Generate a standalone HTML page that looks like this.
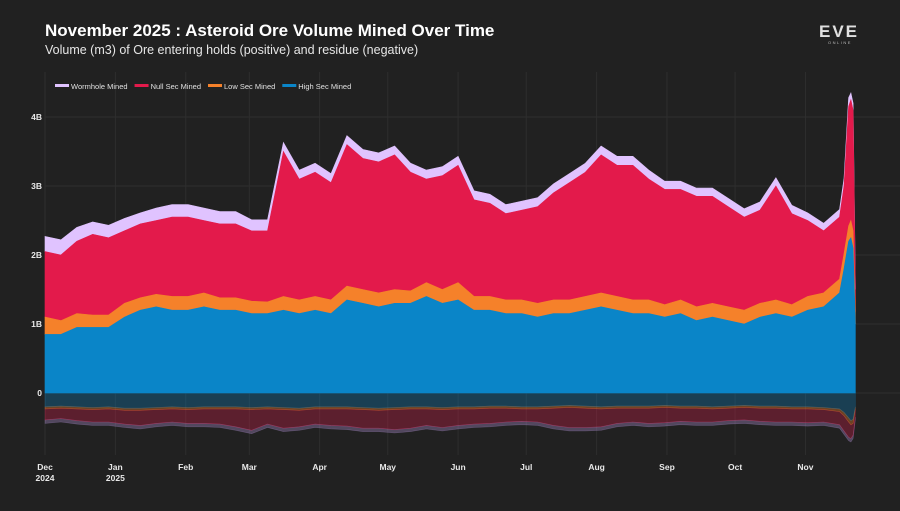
<!DOCTYPE html>
<html><head><meta charset="utf-8"><style>
html,body{margin:0;padding:0;background:#212121;}
body{width:900px;height:506px;overflow:hidden;font-family:"Liberation Sans",sans-serif;}
</style></head><body>
<svg id="chart" width="900" height="506" xmlns="http://www.w3.org/2000/svg">
<rect width="900" height="506" fill="#212121"/>
<text x="45" y="36" fill="#fff" font-size="17" font-weight="bold">November 2025 : Asteroid Ore Volume Mined Over Time</text>
<text x="45" y="54" fill="#e6e6e6" font-size="12.5">Volume (m3) of Ore entering holds (positive) and residue (negative)</text>
<g>
<text x="839" y="37" fill="#e0e0e0" font-size="17" font-weight="bold" text-anchor="middle" letter-spacing="2">EVE</text>
<text x="840" y="44" fill="#bbb" font-size="4" text-anchor="middle" letter-spacing="1.5">ONLINE</text>
</g>
<g id="grid"></g>
<g id="neg"></g>
<g id="pos"></g>
<g id="axes"></g>
<g id="legend"></g>
</svg>
<script>
const days=[0,7,14,21,28,35,42,49,56,63,70,77,84,91,98,105,112,119,126,133,140,147,154,161,168,175,182,189,196,203,210,217,224,231,238,245,252,259,266,273,280,287,294,301,308,315,322,329,336,343,350,352,354,355,356,357];
const highSec=[0.85,0.85,0.95,0.95,0.95,1.1,1.2,1.25,1.2,1.2,1.25,1.2,1.2,1.15,1.15,1.2,1.15,1.2,1.15,1.35,1.3,1.25,1.3,1.3,1.4,1.3,1.35,1.2,1.2,1.15,1.15,1.1,1.15,1.15,1.2,1.25,1.2,1.15,1.15,1.1,1.15,1.05,1.1,1.05,1.0,1.1,1.15,1.1,1.2,1.25,1.45,1.8,2.2,2.25,2.1,1.0];
const lowSec=[0.25,0.2,0.2,0.18,0.18,0.2,0.18,0.18,0.2,0.2,0.2,0.18,0.18,0.18,0.17,0.2,0.2,0.2,0.2,0.2,0.2,0.2,0.2,0.18,0.2,0.2,0.25,0.2,0.2,0.2,0.2,0.2,0.2,0.2,0.2,0.2,0.2,0.2,0.2,0.18,0.2,0.2,0.2,0.2,0.2,0.2,0.2,0.18,0.2,0.2,0.2,0.22,0.22,0.25,0.25,0.18];
const nullSec=[0.95,0.95,1.05,1.17,1.12,1.05,1.07,1.07,1.15,1.15,1.05,1.07,1.07,1.02,1.03,2.1,1.75,1.8,1.7,2.05,1.9,1.9,1.95,1.72,1.5,1.65,1.7,1.4,1.35,1.25,1.3,1.4,1.55,1.7,1.8,2.0,1.9,1.95,1.75,1.67,1.6,1.6,1.55,1.45,1.35,1.35,1.65,1.32,1.1,0.9,0.9,0.98,1.73,1.75,1.75,0.32];
const wormhole=[0.22,0.22,0.2,0.18,0.18,0.18,0.16,0.18,0.18,0.18,0.18,0.18,0.18,0.16,0.16,0.13,0.13,0.13,0.13,0.13,0.13,0.13,0.13,0.13,0.13,0.13,0.13,0.13,0.13,0.13,0.13,0.13,0.13,0.13,0.13,0.13,0.13,0.13,0.13,0.12,0.12,0.12,0.12,0.12,0.12,0.12,0.12,0.12,0.11,0.11,0.11,0.11,0.13,0.1,0.1,0.05];
const negHigh=[0.2,0.19,0.2,0.21,0.2,0.22,0.22,0.21,0.2,0.21,0.2,0.2,0.2,0.21,0.2,0.21,0.22,0.2,0.2,0.2,0.21,0.22,0.21,0.2,0.2,0.21,0.2,0.2,0.19,0.19,0.2,0.2,0.19,0.18,0.19,0.2,0.19,0.19,0.19,0.18,0.19,0.19,0.2,0.19,0.18,0.19,0.19,0.2,0.2,0.21,0.23,0.28,0.36,0.4,0.38,0.2];
const negLow=[0.03,0.03,0.03,0.03,0.03,0.03,0.03,0.03,0.03,0.03,0.03,0.03,0.03,0.03,0.03,0.03,0.03,0.03,0.03,0.03,0.03,0.03,0.03,0.03,0.03,0.03,0.03,0.03,0.03,0.03,0.03,0.03,0.03,0.03,0.03,0.03,0.03,0.03,0.03,0.03,0.03,0.03,0.03,0.03,0.03,0.03,0.03,0.03,0.03,0.03,0.04,0.05,0.06,0.06,0.06,0.03];
const negNull=[0.16,0.15,0.17,0.18,0.19,0.2,0.22,0.2,0.19,0.2,0.21,0.22,0.26,0.3,0.22,0.27,0.24,0.22,0.24,0.25,0.27,0.26,0.29,0.28,0.24,0.26,0.24,0.22,0.22,0.2,0.18,0.19,0.25,0.29,0.28,0.26,0.22,0.2,0.22,0.22,0.19,0.2,0.19,0.18,0.18,0.19,0.2,0.19,0.2,0.18,0.19,0.22,0.22,0.2,0.17,0.12];
const negWh=[0.05,0.05,0.05,0.05,0.05,0.05,0.05,0.05,0.05,0.05,0.05,0.05,0.05,0.05,0.05,0.05,0.05,0.05,0.05,0.05,0.05,0.05,0.05,0.05,0.05,0.05,0.05,0.05,0.05,0.05,0.05,0.05,0.05,0.05,0.05,0.05,0.05,0.05,0.05,0.05,0.05,0.05,0.05,0.05,0.05,0.05,0.05,0.05,0.05,0.05,0.05,0.05,0.05,0.05,0.05,0.03];
const yTicks=[0,1,2,3,4];
const yTickLabels=["0","1B","2B","3B","4B"];
const monthDays=[0,31,62,90,121,151,182,212,243,274,304,335];
const monthLabels=["Dec","Jan","Feb","Mar","Apr","May","Jun","Jul","Aug","Sep","Oct","Nov"];
const yearLabels=["2024","2025","","","","","","","","","",""];
const seriesNames=["Wormhole Mined","Null Sec Mined","Low Sec Mined","High Sec Mined"];
const colors={high:"#0a85c8",low:"#f5812a",nul:"#e31a4b",wh:"#e0c3ff"};

const NS="http://www.w3.org/2000/svg";
const X=d=>45+d*2.27;
const Y=v=>393-v*69;
function mk(tag,attrs,parent){const e=document.createElementNS(NS,tag);for(const k in attrs)e.setAttribute(k,attrs[k]);parent.appendChild(e);return e;}
const grid=document.getElementById('grid'),axes=document.getElementById('axes');
monthDays.forEach((d,i)=>{
  const l=mk('line',{x1:X(d),x2:X(d),y1:72,y2:455,stroke:'#2e2e2e','stroke-width':1},grid);
  
  
  const t=mk('text',{x:X(d),y:470,fill:'#e8e8e8','font-size':8.5,'font-weight':'bold','text-anchor':'middle'},axes);
  t.textContent=monthLabels[i];
  
  
  if(yearLabels[i]){const t2=mk('text',{x:X(d),y:481,fill:'#e8e8e8','font-size':8.5,'font-weight':'bold','text-anchor':'middle'},axes);t2.textContent=yearLabels[i];
  
  }
});
yTicks.forEach((v,i)=>{
  const l=mk('line',{x1:45,x2:900,y1:Y(v),y2:Y(v),stroke:'#2e2e2e','stroke-width':1},grid);
  
  
  const t=mk('text',{x:42,y:Y(v)+3,fill:'#e8e8e8','font-size':8.5,'font-weight':'bold','text-anchor':'end'},axes);
  t.textContent=yTickLabels[i];
  
  
});
function band(parent,lower,upper,color,op,name){
  let d='M'+days.map((dd,i)=>X(dd).toFixed(1)+','+Y(upper[i]).toFixed(1)).join('L');
  for(let i=days.length-1;i>=0;i--)d+='L'+X(days[i]).toFixed(1)+','+Y(lower[i]).toFixed(1);
  const p=mk('path',{d:d+'Z',fill:color,'fill-opacity':op,stroke:color,'stroke-opacity':op,'stroke-width':0.6},parent);
  
  
}
const z=days.map(()=>0);
const c1=highSec.slice(),c2=c1.map((v,i)=>v+lowSec[i]),c3=c2.map((v,i)=>v+nullSec[i]),c4=c3.map((v,i)=>v+wormhole[i]);
const pos=document.getElementById('pos');
band(pos,c3,c4,colors.wh,1,'wormhole-area');
band(pos,c2,c3,colors.nul,1,'null-sec-area');
band(pos,c1,c2,colors.low,1,'low-sec-area');
band(pos,z,c1,colors.high,1,'high-sec-area');
const n1=negHigh.map(v=>-v),n2=n1.map((v,i)=>v-negLow[i]),n3=n2.map((v,i)=>v-negNull[i]),n4=n3.map((v,i)=>v-negWh[i]);
const neg=document.getElementById('neg');
band(neg,n4,n3,'#b090d0',0.35,'wormhole-residue-area');
band(neg,n3,n2,colors.nul,0.3,'null-sec-residue-area');
band(neg,n2,n1,colors.low,0.35,'low-sec-residue-area');
band(neg,n1,z,colors.high,0.3,'high-sec-residue-area');
const lg=document.getElementById('legend');
const lgColors=[colors.wh,colors.nul,colors.low,colors.high];
let lx=55;
seriesNames.forEach((n,i)=>{
  const g=mk('g',{},lg);
  
  
  mk('rect',{x:lx,y:84,width:14,height:3,fill:lgColors[i]},g);
  const t=mk('text',{x:lx+16,y:89,fill:'#e0e0e0','font-size':7.5},g);
  t.textContent=n;
  lx+=16+t.getComputedTextLength()+7;
});
</script>
</body></html>
